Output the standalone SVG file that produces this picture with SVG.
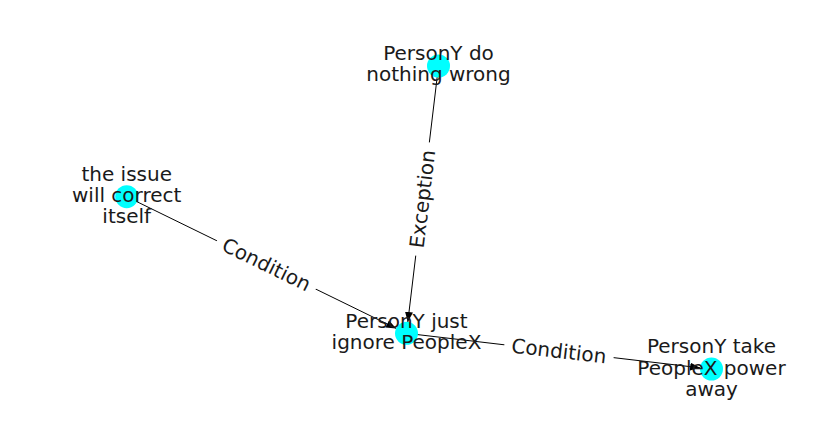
<svg xmlns="http://www.w3.org/2000/svg" width="837" height="434" viewBox="0 0 837 434">
<defs>
<marker id="ah" viewBox="0 0 10 8" refX="10" refY="4" markerWidth="10" markerHeight="8" markerUnits="userSpaceOnUse" orient="auto">
<path d="M0,0 L10,4 L0,8 z" fill="#000"/>
</marker>
<style>
.edge{stroke:#000;stroke-width:1;fill:none;marker-end:url(#ah)}
.node{fill:#00ffff}
.t{font-family:"DejaVu Sans",sans-serif;font-size:20px;fill:#1a1a1a;text-anchor:middle}
.lb{fill:#fff}
</style>
</defs>
<rect width="837" height="434" fill="#fff"/>
<g id="connectors">
<line class="edge" x1="438.5" y1="66" x2="407.8" y2="322"/>
<line class="edge" x1="126.7" y1="196.7" x2="396.2" y2="328.4"/>
<line class="edge" x1="406.5" y1="333.3" x2="700.1" y2="367.8"/>
<g transform="translate(422.5,199) rotate(-83.2)">
<rect class="lb" x="-57" y="-12" width="114" height="24"/>
<text class="t" x="0" y="7">Exception</text>
</g>
<g transform="translate(266.5,264.5) rotate(26.1)">
<rect class="lb" x="-55" y="-12" width="110" height="24"/>
<text class="t" x="0" y="7">Condition</text>
</g>
<g transform="translate(559,351) rotate(6.7)">
<rect class="lb" x="-55" y="-12" width="110" height="24"/>
<text class="t" x="0" y="7">Condition</text>
</g>
</g>
<g id="n_ignore">
<circle class="node" cx="406.5" cy="333.3" r="11.5"/>
<text class="t" x="406.5" y="328">PersonY just</text>
<text class="t" x="406.5" y="349">ignore PeopleX</text>
</g>
<g id="n_nothing">
<circle class="node" cx="438.5" cy="66" r="11.5"/>
<text class="t" x="438.5" y="60">PersonY do</text>
<text class="t" x="438.5" y="81">nothing wrong</text>
</g>
<g id="n_issue">
<circle class="node" cx="126.7" cy="196.7" r="11.5"/>
<text class="t" x="126.7" y="181">the issue</text>
<text class="t" x="126.7" y="202">will correct</text>
<text class="t" x="126.7" y="223">itself</text>
</g>
<g id="n_take">
<circle class="node" cx="711.5" cy="369" r="11.5"/>
<text class="t" x="711.5" y="353">PersonY take</text>
<text class="t" x="711.5" y="375">PeopleX power</text>
<text class="t" x="711.5" y="396">away</text>
</g>
</svg>
